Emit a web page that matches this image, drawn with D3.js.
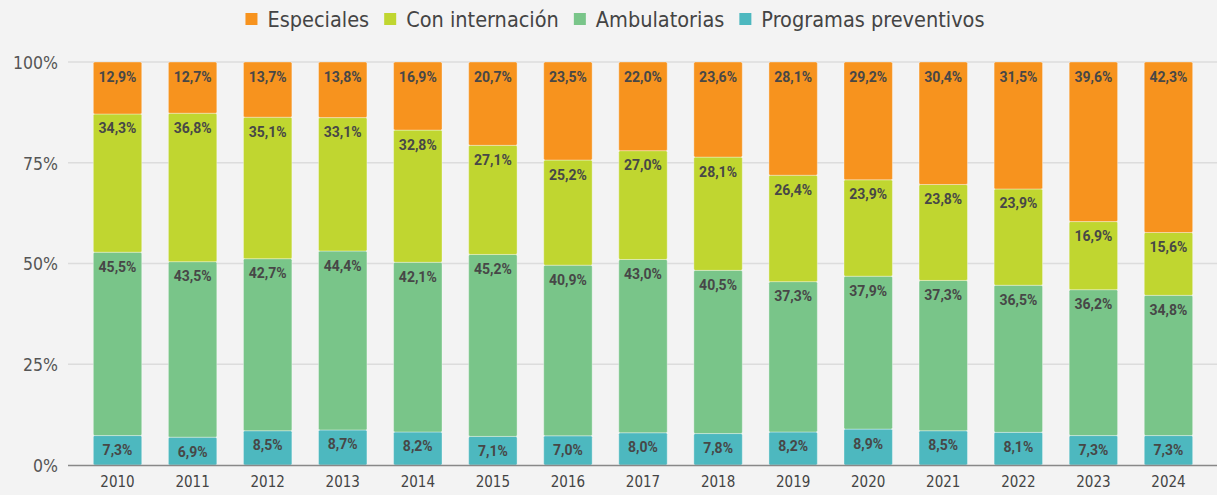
<html>
<head>
  <script src="https://d3js.org/d3.v7.min.js"></script>
  <style>
    body { margin: 0; background: #f3f3f3; }
    .lbl { font-family: Roboto, "Noto Sans", sans-serif; font-weight: bold; font-size: 14px; fill: #474747; }
    .axis text { font-family: "DejaVu Sans Condensed", "DejaVu Sans", sans-serif; }
  </style>
</head>
<body>
<script>
  var years = ["2010","2011","2012","2013","2014","2015","2016","2017","2018","2019","2020","2021","2022","2023","2024"];
  var seriesNames = ["Programas preventivos", "Ambulatorias", "Con internación", "Especiales"];
  var legendOrder = ["Especiales", "Con internación", "Ambulatorias", "Programas preventivos"];

  var especiales   = [12.9,12.7,13.7,13.8,16.9,20.7,23.5,22.0,23.6,28.1,29.2,30.4,31.5,39.6,42.3];
  var internacion  = [34.3,36.8,35.1,33.1,32.8,27.1,25.2,27.0,28.1,26.4,23.9,23.8,23.9,16.9,15.6];
  var ambulatorias = [45.5,43.5,42.7,44.4,42.1,45.2,40.9,43.0,40.5,37.3,37.9,37.3,36.5,36.2,34.8];
  var preventivos  = [7.3,6.9,8.5,8.7,8.2,7.1,7.0,8.0,7.8,8.2,8.9,8.5,8.1,7.3,7.3];

  var yTicks = [0, 0.25, 0.5, 0.75, 1];

  var colors = {
    "Especiales": "#f7931e",
    "Con internación": "#c0d630",
    "Ambulatorias": "#79c589",
    "Programas preventivos": "#4db8bf"
  };

  var rows = years.map(function(y, i){
    return {
      year: y,
      "Programas preventivos": preventivos[i],
      "Ambulatorias": ambulatorias[i],
      "Con internación": internacion[i],
      "Especiales": especiales[i]
    };
  });

  var width = 1217, height = 495;

  var svg = d3.select("body").append("svg")
    .attr("width", width)
    .attr("height", height);

  var x = d3.scaleBand()
    .domain(years)
    .range([80, 1206])
    .paddingInner(0.355)
    .paddingOuter(0.1775);

  var y = d3.scaleLinear()
    .domain([0, 1])
    .range([465, 62]);

  // gridlines
  svg.append("g")
    .selectAll("line")
    .data(yTicks.slice(1))
    .enter()
    .append("line")
    .attr("x1", 68).attr("x2", width)
    .attr("y1", function(d){ return y(d); })
    .attr("y2", function(d){ return y(d); })
    .attr("stroke", "#dcdcdc")
    .attr("stroke-width", 1.5);

  // y labels
  var yAxis = svg.append("g").attr("class", "axis")
    .attr("transform", "translate(58,0)")
    .call(d3.axisLeft(y).tickValues(yTicks).tickSize(0).tickPadding(0)
      .tickFormat(function(d){ return Math.round(d * 100) + "%"; }));
  yAxis.select(".domain").remove();
  yAxis.selectAll("text").attr("font-size", 17.5).attr("fill", "#555").attr("dy", "0.36em");

  var stack = d3.stack()
    .keys(seriesNames)
    .offset(d3.stackOffsetExpand);
  var stacked = stack(rows);

  var groups = svg.append("g")
    .selectAll("g")
    .data(stacked)
    .enter()
    .append("g")
    .attr("fill", function(d){ return colors[d.key]; });

  groups.selectAll("rect")
    .data(function(d){ return d; })
    .enter()
    .append("rect")
    .attr("x", function(d){ return x(d.data.year); })
    .attr("width", x.bandwidth())
    .attr("y", function(d){ return y(d[1]); })
    .attr("height", function(d){ return y(d[0]) - y(d[1]); })
    .attr("rx", 1.5)
    .attr("stroke", "rgba(255,255,255,0.35)")
    .attr("stroke-width", 1);

  groups.each(function(s){
    d3.select(this).selectAll("text")
      .data(s)
      .enter()
      .append("text")
      .attr("class", "lbl")
      .attr("text-anchor", "middle")
      .attr("x", function(d){ return x(d.data.year) + x.bandwidth() / 2; })
      .attr("y", function(d){ return y(d[1]) + 19.5; })
      .text(function(d){ return d.data[s.key].toFixed(1).replace(".", ",") + "%"; });
  });

  // x axis
  var xAxis = svg.append("g").attr("class", "axis")
    .attr("transform", "translate(0,465)")
    .call(d3.axisBottom(x).tickSize(0).tickPadding(11));
  xAxis.select(".domain").remove();
  xAxis.selectAll("text").attr("font-size", 15).attr("fill", "#444");
  svg.append("line")
    .attr("x1", 68).attr("x2", width)
    .attr("y1", 465.5).attr("y2", 465.5)
    .attr("stroke", "#888")
    .attr("stroke-width", 1.5);

  // legend
  var legend = svg.append("g");
  var items = legend.selectAll("g")
    .data(legendOrder)
    .enter()
    .append("g");
  items.append("rect")
    .attr("width", 12).attr("height", 12)
    .attr("y", 13)
    .attr("fill", function(d){ return colors[d]; });
  items.append("text")
    .attr("x", 22)
    .attr("y", 27)
    .attr("font-family", "'DejaVu Sans Condensed', 'DejaVu Sans', sans-serif")
    .attr("font-size", 21.5)
    .attr("fill", "#444")
    .text(function(d){ return d; });

  var gap = 15;
  var offset = 0;
  var widths = [];
  items.each(function(){
    var w = 22 + d3.select(this).select("text").node().getComputedTextLength();
    widths.push(w);
  });
  var total = d3.sum(widths) + gap * (widths.length - 1);
  var start = 615 - total / 2;
  items.attr("transform", function(d, i){
    var t = "translate(" + (start + offset) + ",0)";
    offset += widths[i] + gap;
    return t;
  });
</script>
</body>
</html>
